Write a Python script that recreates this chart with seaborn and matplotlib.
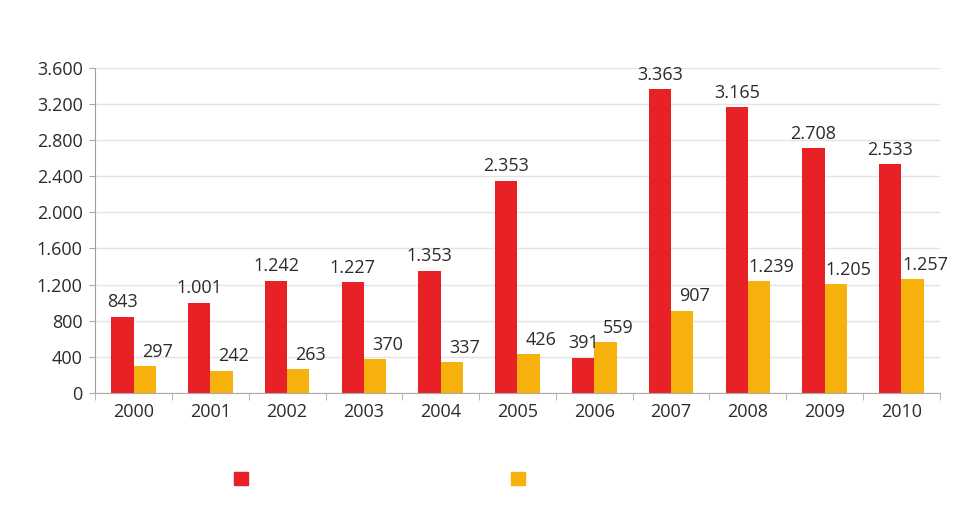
import pandas as pd
import seaborn as sns
import matplotlib.pyplot as plt
from matplotlib.patches import Patch
from matplotlib.ticker import FuncFormatter, MultipleLocator

# data
years = ['2000', '2001', '2002', '2003', '2004', '2005', '2006', '2007', '2008', '2009', '2010']
serie_a = [843, 1001, 1242, 1227, 1353, 2353, 391, 3363, 3165, 2708, 2533]
serie_b = [297, 242, 263, 370, 337, 426, 559, 907, 1239, 1205, 1257]
y_ticks = [0, 400, 800, 1200, 1600, 2000, 2400, 2800, 3200, 3600]

red = '#e82127'
orange = '#f6b10d'


def fmt(v):
    # punto come separatore delle migliaia
    return f'{int(v):,}'.replace(',', '.')


df = pd.DataFrame({
    'anno': years * 2,
    'valore': serie_a + serie_b,
    'serie': ['a'] * len(years) + ['b'] * len(years),
})

sns.set_style('white')
plt.rcParams['font.family'] = ['Open Sans', 'DejaVu Sans']

fig = plt.figure(figsize=(9.61, 5.19), dpi=100)
ax = fig.add_axes([0.099, 0.243, 0.879, 0.626])

sns.barplot(data=df, x='anno', y='valore', hue='serie', palette=[red, orange],
            width=0.58, gap=0, saturation=1, linewidth=0, legend=False, ax=ax)

# etichette sopra le barre (quelle arancioni leggermente spostate a destra)
for cont, vals, dx in zip(ax.containers, [serie_a, serie_b], [0, 9]):
    for bar, v in zip(cont, vals):
        ax.annotate(fmt(v), (bar.get_x() + bar.get_width() / 2, bar.get_height()),
                    xytext=(dx, 4), textcoords='offset points',
                    ha='center', va='bottom', fontsize=13, color='#2b2b2b')

ax.set_xlim(-0.5, len(years) - 0.5)
ax.set_ylim(0, 3600)
ax.set_yticks(y_ticks)
ax.yaxis.set_major_formatter(FuncFormatter(lambda v, p: fmt(v)))
ax.set_xlabel('')
ax.set_ylabel('')
ax.grid(axis='y', color='#e4e4e4', linewidth=1)
ax.set_axisbelow(True)

ax.tick_params(axis='y', labelsize=13, labelcolor='#2b2b2b', length=4,
               color='#b0a8a4', left=True, pad=5)
ax.tick_params(axis='x', which='major', labelsize=13, labelcolor='#2b2b2b', length=0, pad=7)
ax.xaxis.set_minor_locator(MultipleLocator(1, offset=0.5))
ax.tick_params(axis='x', which='minor', length=5, color='#b0a8a4', bottom=True)

for s in ['top', 'right']:
    ax.spines[s].set_visible(False)
ax.spines['left'].set_color('#a89c96')
ax.spines['bottom'].set_color('#b0a8a4')

handles = [Patch(color=red), Patch(color=orange)]
fig.legend(handles, ['', ''], loc='center', bbox_to_anchor=(0.395, 0.075),
           ncol=2, frameon=False, handlelength=0.75, handleheight=0.75,
           handletextpad=0, columnspacing=14.6, fontsize=13)

fig.savefig('out.png', dpi=100)
